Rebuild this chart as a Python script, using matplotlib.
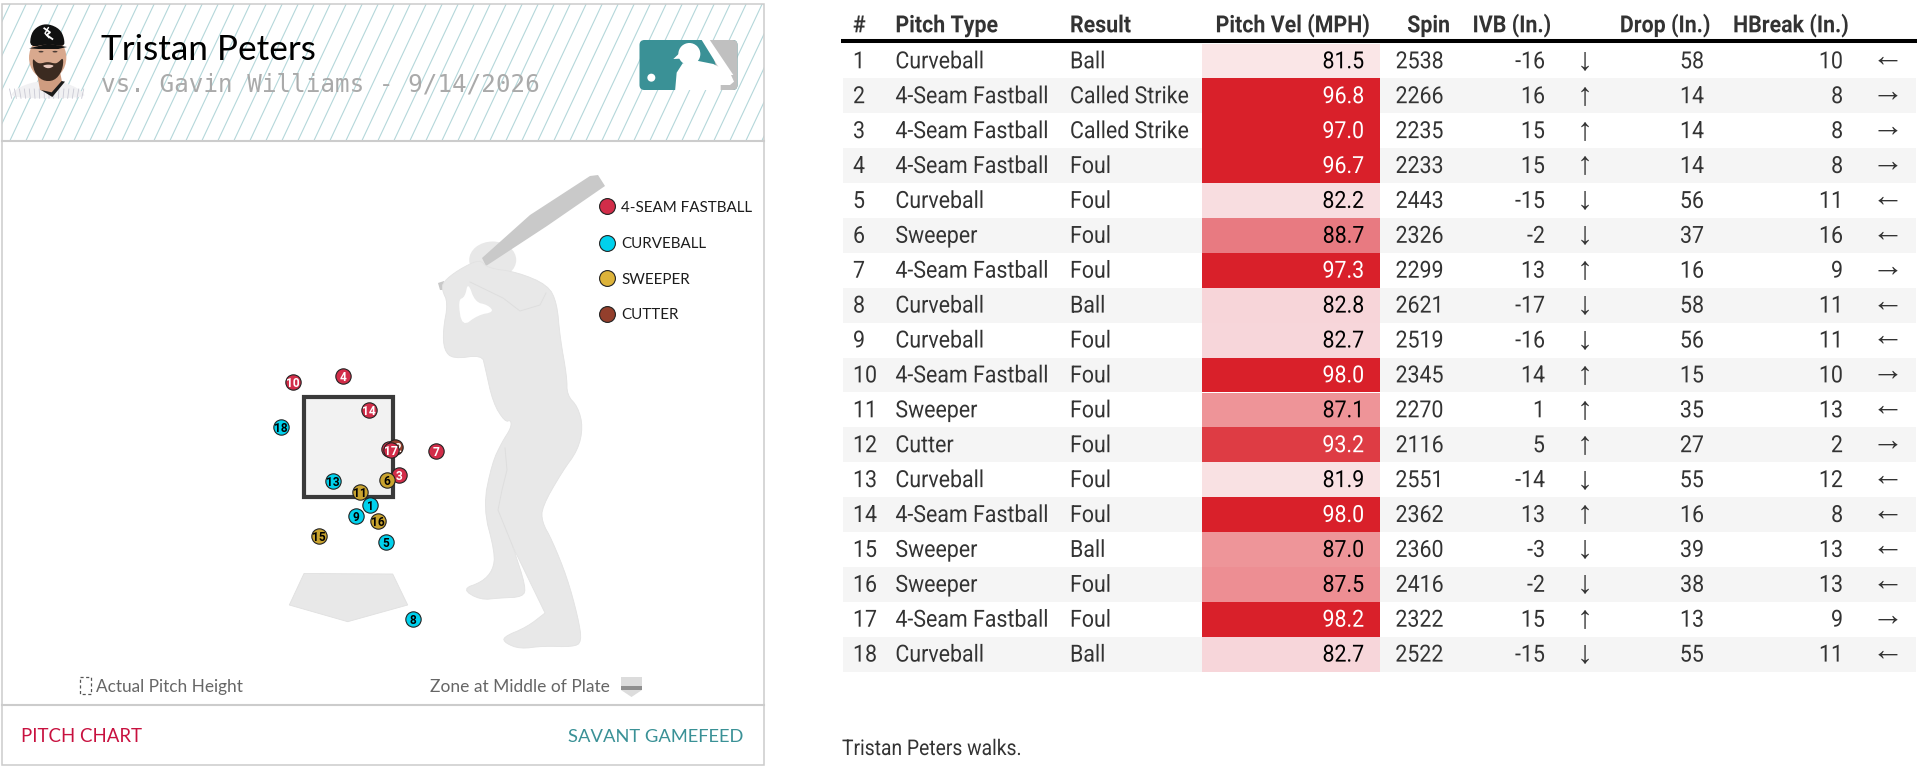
import matplotlib
matplotlib.use("Agg")
import matplotlib.pyplot as plt
import numpy as np
from matplotlib.patches import Rectangle, Polygon, Ellipse, Circle, FancyBboxPatch
from matplotlib.collections import LineCollection
from matplotlib.colors import LinearSegmentedColormap, Normalize
from matplotlib.patheffects import AbstractPathEffect
from matplotlib.transforms import Affine2D

# ---------- data ----------
batter_name = "Tristan Peters"
subtitle = "vs. Gavin Williams - 9/14/2026"
footnote = "Tristan Peters walks."
headers = ["#", "Pitch Type", "Result", "Pitch Vel (MPH)", "Spin", "IVB (In.)", "Drop (In.)", "HBreak (In.)"]
pitch_num = list(range(1, 19))
pitch_type = ["Curveball", "4-Seam Fastball", "4-Seam Fastball", "4-Seam Fastball", "Curveball", "Sweeper",
              "4-Seam Fastball", "Curveball", "Curveball", "4-Seam Fastball", "Sweeper", "Cutter",
              "Curveball", "4-Seam Fastball", "Sweeper", "Sweeper", "4-Seam Fastball", "Curveball"]
result = ["Ball", "Called Strike", "Called Strike", "Foul", "Foul", "Foul", "Foul", "Ball", "Foul",
          "Foul", "Foul", "Foul", "Foul", "Foul", "Ball", "Foul", "Foul", "Ball"]
velocity = [81.5, 96.8, 97.0, 96.7, 82.2, 88.7, 97.3, 82.8, 82.7, 98.0, 87.1, 93.2, 81.9, 98.0, 87.0, 87.5, 98.2, 82.7]
spin = [2538, 2266, 2235, 2233, 2443, 2326, 2299, 2621, 2519, 2345, 2270, 2116, 2551, 2362, 2360, 2416, 2322, 2522]
ivb = [-16, 16, 15, 15, -15, -2, 13, -17, -16, 14, 1, 5, -14, 13, -3, -2, 15, -15]
drop = [58, 14, 14, 14, 56, 37, 16, 58, 56, 15, 35, 27, 55, 16, 39, 38, 13, 55]
hbreak = [10, 8, 8, 8, 11, 16, 9, 11, 11, 10, 13, 2, 12, 8, 13, 13, 9, 11]
hbreak_dir = ["←", "→", "→", "→", "←", "←", "→", "←", "←", "→", "←", "→", "←", "←", "←", "←", "→", "←"]
plate_x = [0.33, 0.61, 0.77, -0.08, 0.57, 0.58, 1.33, 0.98, 0.11, -0.85, 0.17, 0.71, -0.24, 0.31, -0.46, 0.45, 0.64, -1.03]
plate_z = [1.51, 2.36, 1.97, 3.48, 0.94, 1.89, 2.33, -0.23, 1.34, 3.38, 1.71, 2.39, 1.87, 2.96, 1.04, 1.27, 2.35, 2.70]
legend_types = ["4-Seam Fastball", "Curveball", "Sweeper", "Cutter"]
legend_labels = ["4-SEAM FASTBALL", "CURVEBALL", "SWEEPER", "CUTTER"]
pitch_color = {"4-Seam Fastball": "#d22d49", "Curveball": "#00d1ed", "Sweeper": "#c9a32e", "Cutter": "#933f2c"}
legend_color = {"4-Seam Fastball": "#d22d49", "Curveball": "#00d1ed", "Sweeper": "#ddb33a", "Cutter": "#933f2c"}
heat_stops = [(81.5, "#fae6e7"), (82.7, "#f7d6da"), (87.1, "#ee9498"), (88.7, "#e87a81"), (93.2, "#de3c44"), (96.7, "#d9202a"), (98.2, "#d9202a")]

# ---------- canvas ----------
W, H = 1920, 769
fig = plt.figure(figsize=(W / 100, H / 100), dpi=100, facecolor="white")
ax = fig.add_axes([0, 0, 1, 1])
ax.set_xlim(0, W); ax.set_ylim(H, 0); ax.axis("off")


class Condense(AbstractPathEffect):
    """Horizontally narrow a Text about its anchor (stands in for Roboto Condensed)."""
    def __init__(self, sx, x0):
        super().__init__()
        self.sx, self.x0 = sx, x0

    def draw_path(self, renderer, gc, tpath, affine, rgbFace=None):
        a = affine + Affine2D().translate(-self.x0, 0).scale(self.sx, 1).translate(self.x0, 0)
        renderer.draw_path(gc, tpath, a, rgbFace)


def ctext(x, y, s, color="#333333", ha="left", weight="normal", size=17, sx=0.905):
    t = ax.text(x, y, s, color=color, ha=ha, va="baseline", family="Roboto", weight=weight, fontsize=size)
    t.set_path_effects([Condense(sx, x)])
    return t


def smooth(pts, n=3):
    p = np.array(pts, float)
    for _ in range(n):
        q = np.roll(p, -1, axis=0)
        p = np.stack([0.75 * p + 0.25 * q, 0.25 * p + 0.75 * q], axis=1).reshape(-1, 2)
    return p


# ---------- left panel frame ----------
PL, PR, PT, PB = 1.5, 764, 3.5, 765
HEADB, FOOTT = 140.5, 705
hatch_box = Rectangle((PL, PT), PR - PL, HEADB - PT, fc="white", ec="none", zorder=1)
ax.add_patch(hatch_box)
segs = [[(x0, HEADB), (x0 + 0.47 * (HEADB - PT), PT)] for x0 in np.arange(-70, PR + 20, 16.0)]
lc = LineCollection(segs, colors="#b4d7da", linewidths=0.8, zorder=2)
ax.add_collection(lc)
lc.set_clip_path(hatch_box)
ax.add_patch(Rectangle((PL, PT), PR - PL, PB - PT, fc="none", ec="#cccccc", lw=1.1, zorder=3))
ax.plot([PL, PR], [HEADB, HEADB], color="#cccccc", lw=1.5, zorder=3)
ax.plot([PL, PR], [FOOTT, FOOTT], color="#cccccc", lw=1.5, zorder=3)

# ---------- player portrait ----------
def zp(pts):
    return [(5 + a / 3, 15 + b / 3) for a, b in pts]
ax.add_patch(Polygon(smooth(zp([(12, 250), (30, 222), (92, 198), (170, 198), (232, 226), (242, 250)]), 2), fc="#f1f1f3", ec="none", zorder=4))
for zx_ in np.arange(20, 240, 14):
    ax.plot(*zip(*zp([(zx_, 250), (zx_ + (zx_ - 128) * 0.06, 222)])), color="#c9c9d4", lw=0.6, zorder=4)
ax.add_patch(Polygon(zp([(95, 170), (165, 170), (172, 205), (140, 238), (105, 225)]), fc="#cf9c80", ec="none", zorder=4))
ax.add_patch(Polygon(zp([(108, 225), (142, 246), (180, 200), (170, 198), (140, 232)]), fc="#1b1b1b", ec="none", zorder=5))
ax.add_patch(Ellipse((5 + 128 / 3, 15 + 128 / 3), 112 / 3, 130 / 3, fc="#d9a98e", ec="none", zorder=5))
ax.add_patch(Polygon(smooth(zp([(82, 128), (86, 170), (112, 198), (148, 198), (172, 168), (176, 126), (160, 142), (150, 146), (128, 140), (106, 146), (94, 142)]), 2), fc="#3b2a20", ec="none", zorder=6))
ax.add_patch(Polygon(smooth(zp([(110, 152), (130, 148), (150, 152), (130, 162)]), 2), fc="#e8c8bc", ec="none", zorder=7))
ax.add_patch(Ellipse((5 + 108 / 3, 15 + 110 / 3), 5, 1.6, fc="#4a3a34", ec="none", zorder=7))
ax.add_patch(Ellipse((5 + 150 / 3, 15 + 110 / 3), 5, 1.6, fc="#4a3a34", ec="none", zorder=7))
ax.add_patch(Polygon(smooth(zp([(74, 98), (78, 55), (100, 32), (130, 26), (165, 42), (178, 70), (178, 96), (130, 86)]), 2), fc="#111111", ec="none", zorder=7))
ax.add_patch(Polygon(zp([(72, 100), (130, 86), (186, 96), (160, 102), (100, 102)]), fc="#111111", ec="none", zorder=7))
ax.plot(*zip(*zp([(118, 40), (135, 52), (125, 60), (142, 72)])), color="white", lw=1.3, zorder=8)
ax.plot(*zip(*zp([(130, 38), (120, 55), (132, 68)])), color="white", lw=1.0, zorder=8)

# ---------- header text ----------
ax.text(101, 60, batter_name, family="Lato", fontsize=25.3, color="black", va="baseline", zorder=8)
ax.text(101, 91, subtitle, family="DejaVu Sans Mono", fontsize=17.5, color="#aaaaaa", va="baseline", zorder=8)

# ---------- MLB logo ----------
def zl(pts):
    return [(630 + a / 3, 30 + b / 3) for a, b in pts]
box = FancyBboxPatch((639.5, 40), 98, 50, boxstyle="round,pad=0,rounding_size=5", fc="#3a9196", ec="none", zorder=4)
ax.add_patch(box)
gray = Polygon(zl([(235, 20), (330, 20), (330, 190), (262, 190), (262, 120)]), fc="#c0c0c0", ec="none", zorder=5)
ax.add_patch(gray); gray.set_clip_path(box)
stripe = Polygon(zl([(212, 25), (236, 25), (310, 135), (280, 135)]), fc="white", ec="none", zorder=6)
ax.add_patch(stripe); stripe.set_clip_path(box)
ax.add_patch(Ellipse((630 + 178 / 3, 30 + 72 / 3), 66 / 3, 66 / 3, fc="white", ec="none", zorder=7))
ax.add_patch(Polygon(zl([(130, 87), (150, 68), (170, 85)]), fc="white", ec="none", zorder=7))
body = Polygon(zl([(135, 185), (140, 128), (158, 100), (200, 92), (250, 102), (300, 128), (312, 155), (300, 165), (272, 165), (272, 185)]), fc="white", ec="none", zorder=7)
ax.add_patch(body); body.set_clip_path(box)
ax.add_patch(Circle((630 + 64 / 3, 30 + 143 / 3), 4, fc="white", ec="none", zorder=7))

# ---------- batter silhouette ----------
SIL = "#e8e8e8"
bat = [(482, 258), (530, 215), (590, 176), (598, 175), (605, 186), (547, 226), (486, 266)]
ax.add_patch(Polygon([(438, 283), (444, 281), (444, 290), (440, 290)], fc="#c9c9c9", ec="none", zorder=3))
ax.add_patch(Ellipse((492.7, 260), 47, 37, fc=SIL, ec="none", zorder=2))
ax.add_patch(Polygon(bat, fc="#c9c9c9", ec="none", zorder=3))
outer = [(443, 282), (458, 270), (480, 259), (487, 268), (517, 272), (548, 285), (557, 303), (560, 337), (567, 377),
         (567, 395), (578, 407), (583, 427), (578, 450), (562, 472), (542, 507), (542, 522), (552, 540), (567, 577),
         (578, 617), (582, 642), (573, 647), (543, 646), (520, 649), (505, 643), (503, 637), (527, 627), (545, 613),
         (545, 613), (513, 547), (513, 547), (526, 587), (523, 597), (500, 598), (480, 600), (462, 589), (482, 582),
         (493, 570), (495, 553), (483, 507), (492, 463), (502, 442), (511, 428), (511, 420), (505, 422), (493, 403),
         (485, 367), (482, 355), (453, 359), (444, 350), (443, 330), (448, 303), (442, 290)]
ax.add_patch(Polygon(smooth(outer, 2), fc=SIL, ec="#e2e2e2", lw=0.6, zorder=3.5))
hole = [(458, 300), (462, 327), (478, 315), (494, 312), (488, 305), (475, 302), (468, 282), (465, 297)]
ax.add_patch(Polygon(smooth(hole, 2), fc="white", ec="none", zorder=3.6))
ax.plot([505, 507, 502, 498, 513], [448, 470, 490, 510, 547], color="#dedede", lw=0.7, zorder=3.7)
ax.plot([470, 503, 520, 540, 546], [282, 298, 311, 305, 293], color="#dedede", lw=0.7, zorder=3.7)

# home plate
plate = [(304, 573.5), (392.7, 574), (407.7, 605), (347.7, 621.7), (289.3, 605)]
ax.add_patch(Polygon(plate, fc=SIL, ec="#e0e0e0", lw=0.6, zorder=2))

# ---------- strike-zone axes in feet (shares the canvas) ----------
PX_PER_FT = 65.6
X0_PX, Z0_PX, Z0 = 348.7, 499.0, 1.6
zx = fig.add_axes([0, 0, 1, 1], facecolor="none")
zx.set_xlim(-X0_PX / PX_PER_FT, (W - X0_PX) / PX_PER_FT)
zx.set_ylim(Z0 + (Z0_PX - H) / PX_PER_FT, Z0 + Z0_PX / PX_PER_FT)
zx.axis("off")
zx.add_patch(Rectangle((-0.68, 1.63), 1.36, 1.525, fc="#f2f2f2", ec="#3a3a3a", lw=3.0, zorder=2))
for n, ptype, px_, pz_ in zip(pitch_num, pitch_type, plate_x, plate_z):
    z = 5 + n * 0.1
    zx.scatter([px_], [pz_], s=122, color=pitch_color[ptype], edgecolors="#222222", linewidths=0.8, zorder=z)
    zx.text(px_, pz_, str(n), ha="center", va="center_baseline", family="Roboto", weight="bold", fontsize=8.6,
            color="white" if ptype in ("4-Seam Fastball", "Cutter") else "black", zorder=z + 0.01)

# ---------- pitch legend ----------
for lab, ptype, ly in zip(legend_labels, legend_types, [206.3, 242.5, 278, 313.5]):
    ax.scatter([607], [ly], s=130, color=legend_color[ptype], edgecolors="#222222", linewidths=0.8, zorder=5)
    ax.text(621, ly, lab, family="Lato", fontsize=10.9, color="#1c1c1c", va="center_baseline", zorder=5)

# ---------- panel bottom labels ----------
ax.add_patch(Rectangle((80, 677), 10.5, 17, fc="none", ec="#555555", lw=0.9, ls=(0, (2.5, 2)), zorder=4))
ax.text(95.5, 692, "Actual Pitch Height", family="Lato", fontsize=12.4, color="#666666", va="baseline")
ax.text(430, 692, "Zone at Middle of Plate", family="Lato", fontsize=12.5, color="#666666", va="baseline")
ax.add_patch(Polygon([(621, 677), (642, 677), (642, 690), (631.5, 697), (621, 690)], fc="#dcdcdc", ec="none", zorder=4))
ax.add_patch(Rectangle((621, 686), 21, 3.5, fc="#8f8f8f", ec="none", zorder=5))
ax.text(21, 742.5, "PITCH CHART", family="Lato", fontsize=13.4, color="#c8113f", va="baseline")
ax.text(568, 742.5, "SAVANT GAMEFEED", family="Lato", fontsize=13.2, color="#3a9196", va="baseline")

# ---------- table ----------
TOP, RH = 43.5, 34.9
cmap = LinearSegmentedColormap.from_list(
    "vel", [((v - heat_stops[0][0]) / (heat_stops[-1][0] - heat_stops[0][0]), c) for v, c in heat_stops])
norm = Normalize(heat_stops[0][0], heat_stops[-1][0])

hdr_xy = [(853, "left"), (895.4, "left"), (1070, "left"), (1370, "right"), (1450, "right"),
          (1551.5, "right"), (1710.6, "right"), (1849, "right")]
for h, (hx, ha) in zip(headers, hdr_xy):
    ctext(hx, 32.3, h, ha=ha, weight="bold")
ax.plot([841, 1917], [41.4, 41.4], color="black", lw=2.9, solid_capstyle="butt", zorder=6)

for i in range(len(pitch_num)):
    y0 = TOP + RH * i
    base = y0 + 24.8
    if i % 2 == 1:
        ax.add_patch(Rectangle((842.5, y0), 1915.5 - 842.5, RH, fc="#f5f5f5", ec="none", zorder=1))
    ax.add_patch(Rectangle((1202.4, y0), 1380 - 1202.4, RH, fc=cmap(norm(velocity[i])), ec="none", zorder=2))
    ctext(853, base, str(pitch_num[i]))
    ctext(895.4, base, pitch_type[i])
    ctext(1070, base, result[i])
    ctext(1364, base, f"{velocity[i]:.1f}", ha="right", color="white" if velocity[i] > 90 else "black").set_zorder(4)
    ctext(1443.7, base, str(spin[i]), ha="right")
    ctext(1545, base, str(ivb[i]), ha="right")
    ax.text(1585, base + 0.5, "↑" if ivb[i] > 0 else "↓", family="Liberation Sans", fontsize=23, color="#333333", ha="center", va="baseline")
    ctext(1704, base, str(drop[i]), ha="right")
    ctext(1843, base, str(hbreak[i]), ha="right")
    ax.text(1888, base - 2.5, hbreak_dir[i], family="Liberation Sans", fontsize=23, color="#333333", ha="center", va="baseline")

ctext(842, 755, footnote, size=15.6, sx=0.89)

fig.savefig("out.png", dpi=100, facecolor="white")
